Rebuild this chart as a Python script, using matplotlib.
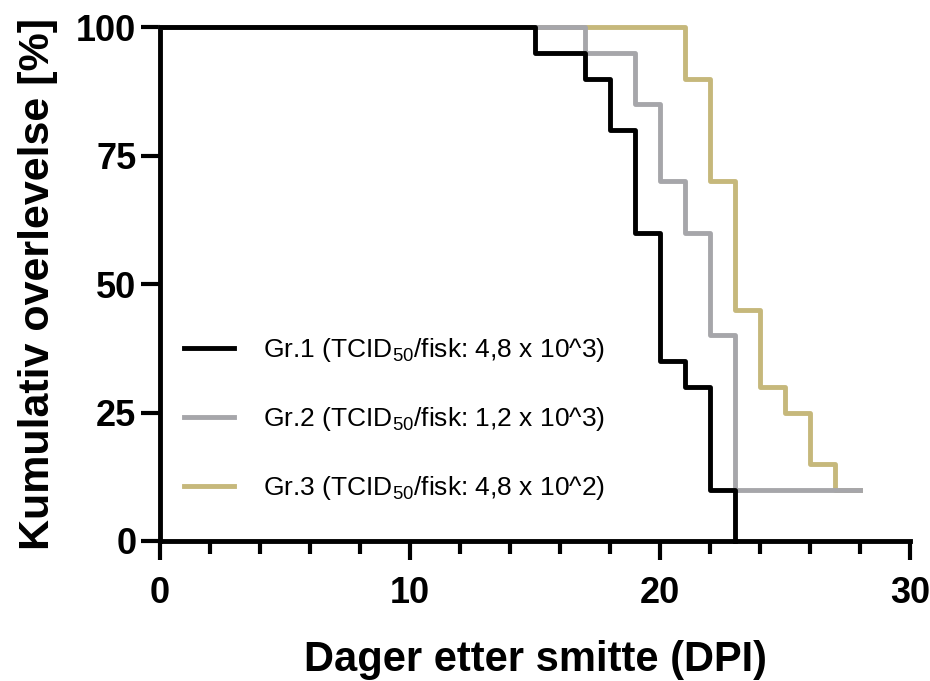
import matplotlib.pyplot as plt
from matplotlib.ticker import MultipleLocator

plt.rcParams["font.family"] = ["Liberation Sans", "DejaVu Sans"]
plt.rcParams["mathtext.default"] = "regular"

# Kaplan-Meier data (dager etter smitte, kumulativ overlevelse %)
gr1_days = [0, 15, 17, 18, 19, 20, 21, 22, 23]
gr1_surv = [100, 95, 90, 80, 60, 35, 30, 10, 0]

gr2_days = [0, 17, 19, 20, 21, 22, 23, 28]
gr2_surv = [100, 95, 85, 70, 60, 40, 10, 10]

gr3_days = [0, 21, 22, 23, 24, 25, 26, 27, 28]
gr3_surv = [100, 90, 70, 45, 30, 25, 15, 10, 10]

labels = [
    "Gr.1 (TCID$_{50}$/fisk: 4,8 x 10^3)",
    "Gr.2 (TCID$_{50}$/fisk: 1,2 x 10^3)",
    "Gr.3 (TCID$_{50}$/fisk: 4,8 x 10^2)",
]
colors = ["#000000", "#A6A6AA", "#C6B87B"]

fig = plt.figure(figsize=(9.3, 6.81), dpi=100)
ax = fig.add_axes([0.172, 0.2056, 0.807, 0.7544])

lw = 3.5
l3, = ax.plot(gr3_days, gr3_surv, drawstyle="steps-post", color=colors[2], lw=lw, clip_on=False, zorder=2)
l2, = ax.plot(gr2_days, gr2_surv, drawstyle="steps-post", color=colors[1], lw=lw, clip_on=False, zorder=3)
l1, = ax.plot(gr1_days, gr1_surv, drawstyle="steps-post", color=colors[0], lw=lw, clip_on=False, zorder=4)

ax.set_xlim(0, 30)
ax.set_ylim(0, 100)
ax.xaxis.set_major_locator(MultipleLocator(10))
ax.xaxis.set_minor_locator(MultipleLocator(2))
ax.yaxis.set_major_locator(MultipleLocator(25))

for side in ["top", "right"]:
    ax.spines[side].set_visible(False)
for side in ["left", "bottom"]:
    ax.spines[side].set_linewidth(3.5)

ax.tick_params(which="major", length=14, width=3, direction="out", labelsize=26)
ax.tick_params(which="minor", length=9, width=3, direction="out")
ax.tick_params(axis="x", which="major", pad=11)
ax.tick_params(axis="y", which="major", pad=3)
for lab in ax.get_xticklabels() + ax.get_yticklabels():
    lab.set_fontweight("bold")

ax.set_xlabel("Dager etter smitte (DPI)", fontsize=30, fontweight="bold", labelpad=21)
ax.set_ylabel("Kumulativ overlevelse [%]", fontsize=31, fontweight="bold", labelpad=13)

leg = ax.legend(
    [l1, l2, l3], labels,
    loc="upper left", bbox_to_anchor=(0.0, 0.445),
    frameon=False, fontsize=19, handlelength=1.9, handletextpad=1.1,
    labelspacing=1.55,
)

fig.savefig("out.png", dpi=100)
